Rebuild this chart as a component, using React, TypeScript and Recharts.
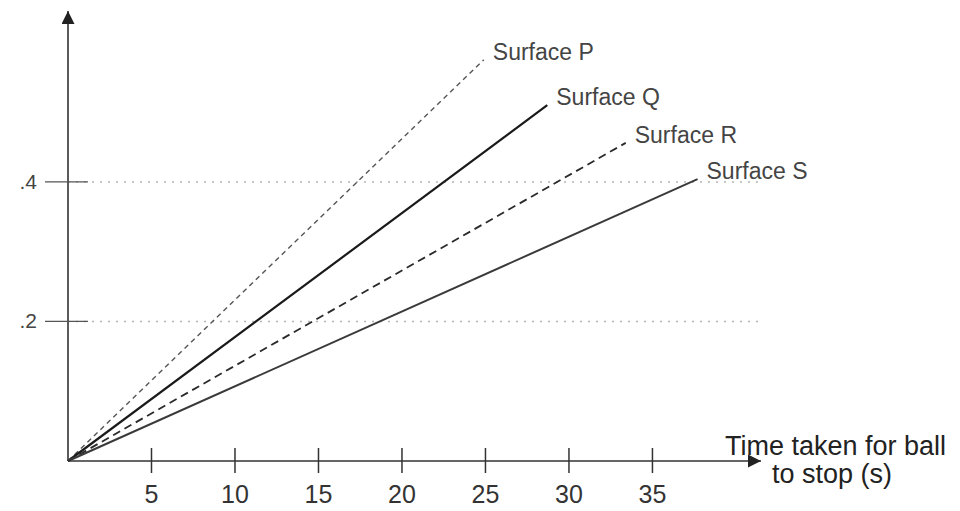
import React from 'react';
import { LineChart, Line, XAxis, YAxis, ReferenceLine, LabelList } from 'recharts';

// surfaces, and where each line ends (time to stop, y value)
const surfaceNames = ['Surface P', 'Surface Q', 'Surface R', 'Surface S'];
const stopTimes = [24.9, 28.7, 33.4, 37.7];
const yValues = [0.575, 0.51, 0.456, 0.404];
const xTicks = [5, 10, 15, 20, 25, 30, 35];
const yTicks = [0.2, 0.4];

const lineStyles = [
  { stroke: '#555', width: 1.4, dash: '5 4' },
  { stroke: '#1a1a1a', width: 2.2, dash: undefined },
  { stroke: '#2a2a2a', width: 1.8, dash: '8 5' },
  { stroke: '#3a3a3a', width: 2, dash: undefined },
];

const font = '"Liberation Sans", Arial, sans-serif';

const series = surfaceNames.map((name, i) => ({
  name,
  data: [
    { t: 0, v: 0 },
    { t: stopTimes[i], v: yValues[i] },
  ],
}));

const XTick = (props: any) => {
  const { x, y, payload } = props;
  return (
    <g>
      <line x1={x} x2={x} y1={y - 13} y2={y + 12} stroke="#333" strokeWidth={1.5} />
      <text x={x} y={y + 42} textAnchor="middle" fontSize={25} fill="#333" fontFamily={font}>
        {payload.value}
      </text>
    </g>
  );
};

const YTick = (props: any) => {
  const { x, y, payload } = props;
  return (
    <g>
      <line x1={x - 23} x2={x + 20} y1={y} y2={y} stroke="#555" strokeWidth={1.2} />
      <text x={x - 31} y={y + 7} textAnchor="end" fontSize={21} fill="#444" fontFamily={font}>
        {payload.value.toFixed(1).replace(/^0/, '')}
      </text>
    </g>
  );
};

const EndLabel = (props: any) => {
  const { x, y, index, value } = props;
  if (index !== 1) return null;
  return (
    <text x={x + 9} y={y} fontSize={23} fill="#444" fontFamily={font}>
      {value}
    </text>
  );
};

const XTitle = (props: any) => {
  const { viewBox } = props;
  const ex = viewBox.x + viewBox.width;
  const ey = viewBox.y;
  return (
    <text fontSize={27} fill="#222" fontFamily={font}>
      <tspan x={ex - 36} y={ey - 6}>Time taken for ball</tspan>
      <tspan x={ex + 11} y={ey + 22}>to stop (s)</tspan>
    </text>
  );
};

export default function App() {
  return (
    <div style={{ position: 'absolute', left: 0, top: 0, width: 960, height: 511, background: '#fff' }}>
      <svg width={0} height={0} style={{ position: 'absolute' }}>
        <defs>
          <marker
            id="axisArrow"
            viewBox="0 0 10 10"
            refX={10}
            refY={5}
            markerWidth={14}
            markerHeight={13}
            markerUnits="userSpaceOnUse"
            orient="auto-start-reverse"
          >
            <path d="M0,0 L10,5 L0,10 z" fill="#222" />
          </marker>
        </defs>
      </svg>
      <LineChart width={960} height={511} margin={{ top: 11, right: 199, bottom: 0, left: 0 }}>
        <XAxis
          type="number"
          dataKey="t"
          domain={[0, 41.5]}
          ticks={xTicks}
          height={50}
          tickSize={0}
          tickMargin={0}
          tickLine={false}
          tick={<XTick />}
          axisLine={{ stroke: '#333', strokeWidth: 1.6, markerEnd: 'url(#axisArrow)' }}
          label={<XTitle />}
        />
        <YAxis
          type="number"
          dataKey="v"
          domain={[0, 0.645]}
          ticks={yTicks}
          width={68}
          tickSize={0}
          tickMargin={0}
          tickLine={false}
          tick={<YTick />}
          axisLine={{ stroke: '#333', strokeWidth: 1.6, markerStart: 'url(#axisArrow)' }}
        />
        {yTicks.map((v) => (
          <ReferenceLine
            key={v}
            y={v}
            segment={[{ x: 0, y: v }, { x: 41, y: v }]}
            stroke="#b5b5b5"
            strokeDasharray="2 6"
            strokeWidth={1.5}
          />
        ))}
        {series.map((s, i) => (
          <Line
            key={s.name}
            data={s.data}
            dataKey="v"
            name={s.name}
            type="linear"
            stroke={lineStyles[i].stroke}
            strokeWidth={lineStyles[i].width}
            strokeDasharray={lineStyles[i].dash}
            dot={false}
            activeDot={false}
            isAnimationActive={false}
          >
            <LabelList dataKey={() => s.name} content={<EndLabel />} />
          </Line>
        ))}
      </LineChart>
    </div>
  );
}
